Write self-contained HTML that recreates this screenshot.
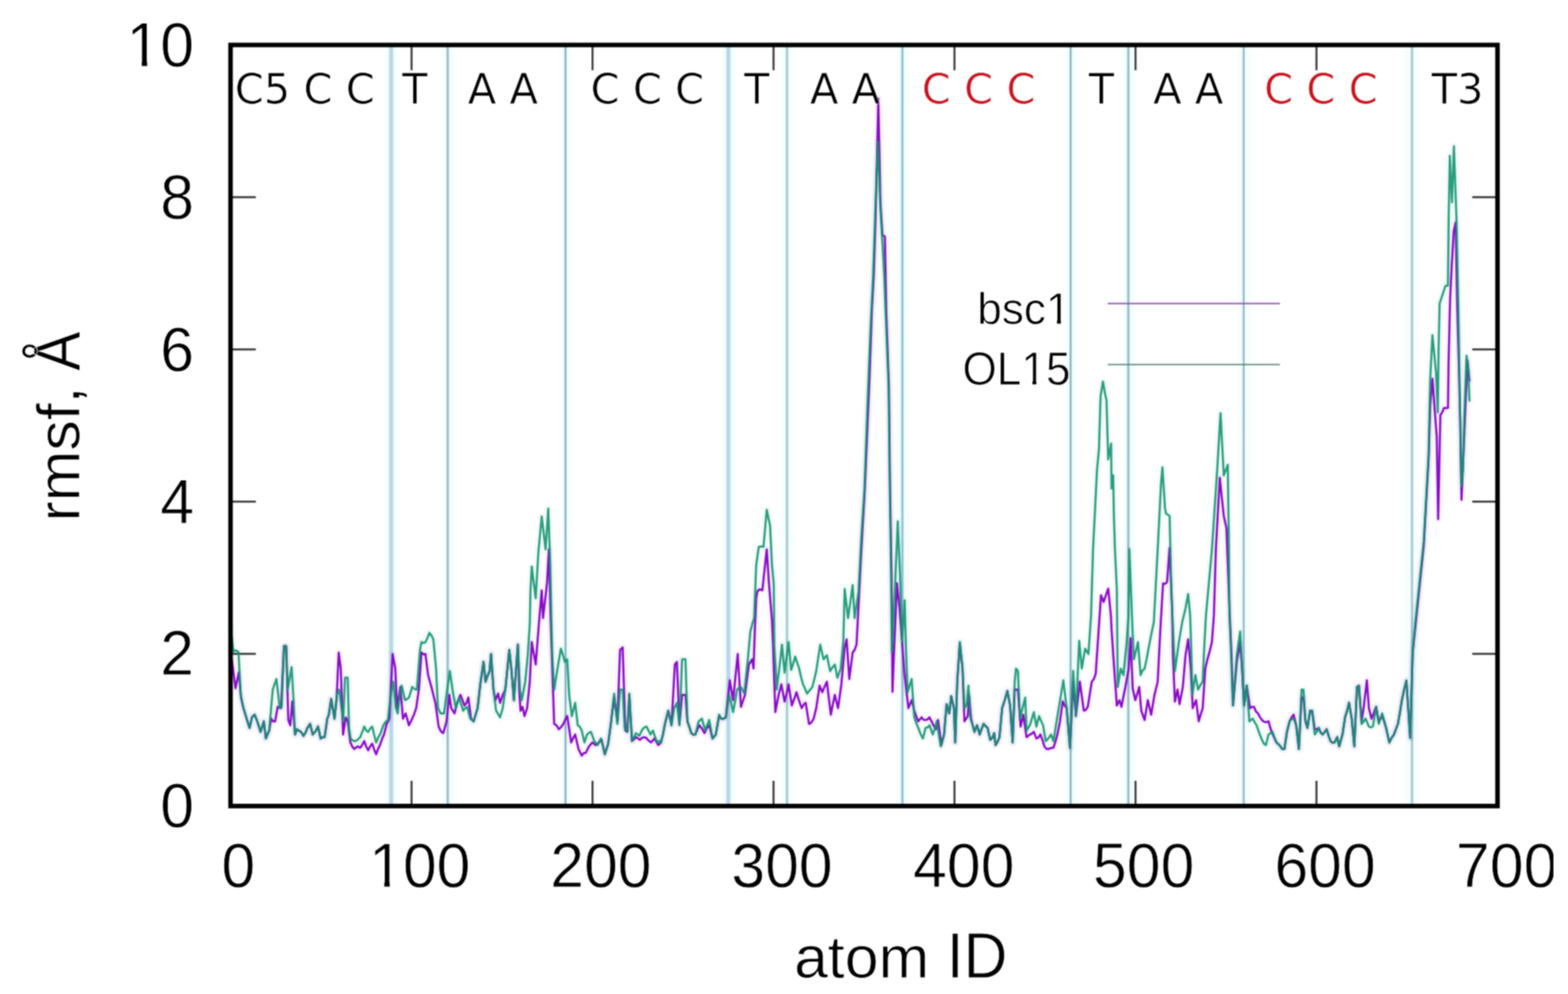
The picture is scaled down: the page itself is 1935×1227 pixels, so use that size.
<!DOCTYPE html>
<html lang="en"><head><meta charset="utf-8"><title>rmsf per atom: bsc1 vs OL15</title>
<style>html,body{margin:0;padding:0;background:#fff}body{width:1935px;height:1227px;overflow:hidden}svg{display:block}</style>
</head><body>
<svg width="1935" height="1227" viewBox="0 0 1935 1227" role="img" aria-label="rmsf per atom ID for bsc1 and OL15">
<defs><filter id="soft" x="0" y="0" width="100%" height="100%" filterUnits="userSpaceOnUse" color-interpolation-filters="sRGB"><feConvolveMatrix order="3" kernelMatrix="1 2 1 2 4 2 1 2 1" divisor="16" edgeMode="duplicate" preserveAlpha="true"/></filter></defs>
<rect width="1935" height="1227" fill="#fff"/>
<g filter="url(#soft)">
<rect width="1935" height="1227" fill="#fff"/>
<g fill="none">
<line x1="482.7" y1="55.5" x2="482.7" y2="995.0" stroke="#f7fefe" stroke-width="16"/>
<line x1="552.5" y1="55.5" x2="552.5" y2="995.0" stroke="#f7fefe" stroke-width="16"/>
<line x1="697.9" y1="55.5" x2="697.9" y2="995.0" stroke="#f7fefe" stroke-width="16"/>
<line x1="898.8" y1="55.5" x2="898.8" y2="995.0" stroke="#f7fefe" stroke-width="16"/>
<line x1="971.2" y1="55.5" x2="971.2" y2="995.0" stroke="#f7fefe" stroke-width="16"/>
<line x1="1113.6" y1="55.5" x2="1113.6" y2="995.0" stroke="#f7fefe" stroke-width="16"/>
<line x1="1321.2" y1="55.5" x2="1321.2" y2="995.0" stroke="#f7fefe" stroke-width="16"/>
<line x1="1392.4" y1="55.5" x2="1392.4" y2="995.0" stroke="#f7fefe" stroke-width="16"/>
<line x1="1534.8" y1="55.5" x2="1534.8" y2="995.0" stroke="#f7fefe" stroke-width="16"/>
<line x1="1742.5" y1="55.5" x2="1742.5" y2="995.0" stroke="#f7fefe" stroke-width="16"/>
<line x1="482.7" y1="55.5" x2="482.7" y2="995.0" stroke="#e9f8fb" stroke-width="8.1"/>
<line x1="552.5" y1="55.5" x2="552.5" y2="995.0" stroke="#e9f8fb" stroke-width="5.7"/>
<line x1="697.9" y1="55.5" x2="697.9" y2="995.0" stroke="#e9f8fb" stroke-width="5.7"/>
<line x1="898.8" y1="55.5" x2="898.8" y2="995.0" stroke="#e9f8fb" stroke-width="8.1"/>
<line x1="971.2" y1="55.5" x2="971.2" y2="995.0" stroke="#e9f8fb" stroke-width="5.9"/>
<line x1="1113.6" y1="55.5" x2="1113.6" y2="995.0" stroke="#e9f8fb" stroke-width="5.9"/>
<line x1="1321.2" y1="55.5" x2="1321.2" y2="995.0" stroke="#e9f8fb" stroke-width="5.7"/>
<line x1="1392.4" y1="55.5" x2="1392.4" y2="995.0" stroke="#e9f8fb" stroke-width="5.7"/>
<line x1="1534.8" y1="55.5" x2="1534.8" y2="995.0" stroke="#e9f8fb" stroke-width="5.7"/>
<line x1="1742.5" y1="55.5" x2="1742.5" y2="995.0" stroke="#e9f8fb" stroke-width="5.7"/>
<line x1="482.7" y1="55.5" x2="482.7" y2="995.0" stroke="#bfd5e7" stroke-width="4.6"/>
<line x1="552.5" y1="55.5" x2="552.5" y2="995.0" stroke="#8ab0bf" stroke-width="2.2"/>
<line x1="697.9" y1="55.5" x2="697.9" y2="995.0" stroke="#8ab0bf" stroke-width="2.2"/>
<line x1="898.8" y1="55.5" x2="898.8" y2="995.0" stroke="#bbd5ec" stroke-width="4.6"/>
<line x1="971.2" y1="55.5" x2="971.2" y2="995.0" stroke="#a3c3cc" stroke-width="2.4"/>
<line x1="1113.6" y1="55.5" x2="1113.6" y2="995.0" stroke="#90bccd" stroke-width="2.4"/>
<line x1="1321.2" y1="55.5" x2="1321.2" y2="995.0" stroke="#8ab0bf" stroke-width="2.2"/>
<line x1="1392.4" y1="55.5" x2="1392.4" y2="995.0" stroke="#8ab0bf" stroke-width="2.2"/>
<line x1="1534.8" y1="55.5" x2="1534.8" y2="995.0" stroke="#95b7c3" stroke-width="2.2"/>
<line x1="1742.5" y1="55.5" x2="1742.5" y2="995.0" stroke="#9bc0cc" stroke-width="2.2"/>
</g>
<g stroke="#3c3c3c" stroke-width="2.5" fill="none">
<line x1="507.9" y1="995.0" x2="507.9" y2="963.8"/>
<line x1="507.9" y1="55.5" x2="507.9" y2="86.7"/>
<line x1="731.2" y1="995.0" x2="731.2" y2="963.8"/>
<line x1="731.2" y1="55.5" x2="731.2" y2="86.7"/>
<line x1="954.6" y1="995.0" x2="954.6" y2="963.8"/>
<line x1="954.6" y1="55.5" x2="954.6" y2="86.7"/>
<line x1="1177.9" y1="995.0" x2="1177.9" y2="963.8"/>
<line x1="1177.9" y1="55.5" x2="1177.9" y2="86.7"/>
<line x1="1401.3" y1="995.0" x2="1401.3" y2="963.8"/>
<line x1="1401.3" y1="55.5" x2="1401.3" y2="86.7"/>
<line x1="1624.6" y1="995.0" x2="1624.6" y2="963.8"/>
<line x1="1624.6" y1="55.5" x2="1624.6" y2="86.7"/>
<line x1="284.5" y1="807.1" x2="315.7" y2="807.1"/>
<line x1="1848.0" y1="807.1" x2="1816.8" y2="807.1"/>
<line x1="284.5" y1="619.2" x2="315.7" y2="619.2"/>
<line x1="1848.0" y1="619.2" x2="1816.8" y2="619.2"/>
<line x1="284.5" y1="431.3" x2="315.7" y2="431.3"/>
<line x1="1848.0" y1="431.3" x2="1816.8" y2="431.3"/>
<line x1="284.5" y1="243.4" x2="315.7" y2="243.4"/>
<line x1="1848.0" y1="243.4" x2="1816.8" y2="243.4"/>
</g>
<line x1="1367" y1="374.7" x2="1579.5" y2="374.7" stroke="#8d4fae" stroke-width="1.7"/>
<line x1="1367" y1="450" x2="1579.5" y2="450" stroke="#4f7d70" stroke-width="1.5"/>
<g fill="none" stroke-width="2.6" stroke-linejoin="round" stroke-linecap="round">
<polyline stroke="#129470" stroke-width="9" opacity="0.05" points="284.4,772.2 288.1,804.0 291.2,802.8 294.3,804.8 297.1,857.8 300.4,874.1 304.4,887.1 308.0,898.5 311.0,885.5 314.2,882.2 317.5,890.4 321.6,903.4 325.6,890.4 328.1,911.6 332.2,901.8 334.6,874.1 336.6,851.3 338.8,844.7 341.1,838.2 345.2,874.1 347.6,872.5 350.4,799.1 352.8,796.7 355.0,851.3 357.4,837.5 359.9,823.6 362.3,864.3 363.9,906.7 366.4,900.2 368.8,901.9 371.3,903.4 374.5,908.3 377.0,904.5 379.4,898.5 382.7,893.6 385.9,906.7 389.2,903.0 392.5,896.9 395.7,911.6 398.2,910.0 400.6,909.9 403.9,887.1 405.8,882.2 408.7,862.7 412.8,887.1 415.6,857.8 418.5,851.3 423.4,890.4 425.9,836.6 429.1,836.6 430.7,898.5 432.7,911.6 435.8,914.4 438.9,914.8 441.8,912.7 444.6,909.9 447.0,903.7 449.5,896.9 451.9,901.8 454.4,903.4 456.8,899.3 459.3,896.9 461.7,907.0 464.2,916.5 466.6,910.5 469.0,906.7 473.1,895.3 476.0,891.0 478.8,888.7 482.1,857.8 485.3,841.5 488.6,874.1 490.8,880.6 493.3,857.8 495.7,846.4 499.8,864.3 502.2,863.0 504.7,861.0 508.7,848.0 511.6,850.6 514.4,851.3 518.5,800.7 520.1,792.6 522.6,793.8 525.0,792.6 527.5,787.5 529.9,781.2 532.4,784.4 534.8,789.3 538.1,825.2 540.5,874.1 543.8,880.6 547.9,880.6 551.9,851.3 555.2,828.4 558.4,851.3 562.5,874.1 566.6,861.0 569.0,869.0 571.5,877.3 573.9,874.4 576.4,872.5 580.4,887.1 584.5,890.4 587.0,882.0 589.4,874.1 592.7,844.7 596.7,817.0 599.2,841.5 601.6,834.5 604.1,828.4 606.0,807.3 609.0,851.3 612.2,877.3 614.7,881.3 617.1,885.5 620.4,874.1 623.6,851.3 628.5,802.4 631.0,825.2 634.2,864.3 636.7,828.4 639.1,795.9 641.6,851.3 644.0,864.3 648.1,841.5 651.3,808.9 653.8,769.8 654.6,730.4 656.2,699.4 661.1,738.5 664.4,681.5 668.5,637.5 673.3,678.2 676.6,627.7 679.1,697.8 680.4,763.0 681.5,808.9 683.9,851.3 688.0,825.2 692.1,800.7 694.5,808.0 697.0,817.0 700.0,813.8 702.4,857.8 705.7,883.9 709.8,867.6 713.0,895.3 715.5,897.0 717.9,901.8 721.2,916.5 724.4,906.7 726.9,904.6 729.3,903.4 733.4,914.8 737.5,919.7 741.6,911.6 744.0,920.6 746.4,931.1 750.5,918.1 753.8,893.6 757.9,856.2 761.9,893.6 765.2,851.3 768.4,851.3 770.9,898.5 774.2,903.4 776.6,856.2 779.9,914.8 782.3,910.2 784.7,905.0 788.8,908.3 792.9,900.2 795.3,897.9 797.8,896.9 800.2,901.7 802.7,906.7 805.9,901.8 808.4,909.8 810.8,916.5 813.3,914.6 815.7,916.5 818.2,906.2 820.6,893.6 824.7,877.3 828.7,895.3 832.0,874.1 835.3,867.6 838.5,895.3 841.8,813.8 845.9,813.8 848.3,890.4 850.7,897.4 853.2,905.0 855.6,907.0 858.1,906.7 862.2,890.4 866.2,887.1 870.3,901.8 872.8,894.5 875.2,888.7 879.3,911.6 883.3,906.7 887.4,882.2 890.0,887.1 892.9,887.2 895.7,885.5 899.8,857.8 902.2,867.3 904.7,879.0 907.1,866.3 909.6,851.3 912.0,848.9 914.4,848.0 918.5,856.2 922.6,817.0 925.9,779.6 928.6,769.5 930.7,763.0 933.2,697.8 936.4,675.0 939.3,674.4 942.2,675.0 946.2,629.3 950.3,648.9 952.7,697.8 954.9,720.6 955.5,795.6 956.2,808.9 957.3,825.2 958.4,851.3 961.7,825.2 965.0,795.9 968.2,830.1 973.1,792.6 976.4,826.8 978.8,819.3 981.3,810.5 983.7,817.8 986.2,825.2 988.6,835.9 991.0,844.7 993.5,850.3 995.9,856.2 999.2,852.1 1002.5,848.0 1004.9,838.5 1007.3,828.4 1012.2,795.9 1016.3,813.8 1020.4,808.9 1024.5,828.4 1027.3,823.8 1030.2,820.3 1033.4,836.6 1037.5,825.2 1040.7,792.6 1042.4,727.1 1046.5,763.0 1048.9,746.7 1052.2,722.2 1054.6,763.0 1059.5,730.4 1062.8,665.2 1066.8,603.3 1070.5,500.0 1074.5,400.0 1077.5,340.0 1080.5,250.0 1083.3,175.0 1086.2,252.0 1089.0,300.0 1091.2,340.0 1092.8,382.0 1096.6,478.0 1098.0,600.0 1099.6,707.0 1100.6,805.0 1104.7,719.8 1107.9,643.6 1111.1,719.8 1113.2,791.9 1116.4,741.0 1118.0,800.0 1120.1,854.5 1122.6,846.0 1125.0,838.2 1128.3,885.5 1130.7,892.5 1133.2,898.5 1136.0,906.0 1138.9,911.6 1142.2,898.5 1144.6,897.9 1147.0,895.3 1151.1,906.7 1153.6,899.4 1156.0,890.4 1160.9,921.3 1165.0,906.7 1168.2,869.2 1171.5,880.6 1173.9,859.4 1177.2,874.1 1178.8,916.5 1181.3,841.5 1184.5,792.6 1187.8,825.2 1190.2,874.1 1192.7,870.8 1195.1,846.4 1197.6,887.1 1200.0,894.1 1202.5,903.4 1205.7,895.3 1209.0,906.7 1211.4,899.5 1213.9,893.6 1216.3,896.3 1218.7,898.5 1222.0,913.2 1224.5,910.9 1226.9,905.0 1228.5,919.7 1231.0,915.7 1233.4,909.9 1236.7,874.1 1239.9,864.3 1243.2,852.9 1246.5,870.8 1249.7,916.5 1252.2,841.5 1253.8,825.2 1256.2,828.4 1258.7,887.1 1261.9,874.1 1265.2,861.0 1266.8,901.8 1270.9,895.3 1273.3,887.5 1275.8,879.0 1279.0,896.9 1282.3,883.9 1284.8,890.0 1287.2,895.3 1290.5,914.8 1293.7,911.5 1297.0,906.7 1300.0,914.8 1306.5,874.1 1309.4,857.1 1312.2,839.9 1316.3,874.1 1320.4,923.0 1324.4,828.4 1327.7,883.9 1331.8,791.0 1335.0,825.2 1339.1,800.7 1343.2,807.3 1346.4,760.0 1348.9,677.8 1353.8,580.0 1356.2,554.1 1358.2,488.9 1361.1,471.0 1363.9,487.3 1365.5,493.8 1367.6,567.1 1371.2,547.6 1371.7,603.0 1373.7,586.7 1374.6,635.6 1375.9,677.8 1378.2,726.7 1379.4,848.0 1383.1,825.2 1386.4,833.3 1390.4,792.6 1392.6,760.0 1393.7,677.8 1397.5,775.6 1399.4,813.8 1401.9,803.2 1404.3,792.6 1407.6,833.3 1410.0,827.6 1412.5,825.2 1414.9,814.1 1417.3,800.7 1420.6,783.7 1423.9,768.1 1428.7,677.8 1432.8,596.3 1434.5,576.9 1437.7,627.4 1438.9,633.8 1441.1,635.2 1443.4,637.0 1445.0,710.4 1446.7,759.3 1449.9,828.4 1454.8,792.6 1458.9,768.1 1463.0,751.1 1466.2,733.2 1468.7,759.3 1469.8,792.6 1471.4,857.8 1475.2,833.3 1478.5,851.3 1481.3,845.6 1484.2,841.5 1485.8,805.6 1488.2,760.0 1495.6,677.8 1502.1,580.0 1506.2,510.1 1510.2,586.7 1512.7,580.3 1515.1,573.6 1516.4,661.5 1517.2,759.3 1519.3,808.9 1521.4,870.8 1526.3,808.9 1530.4,779.6 1532.8,825.2 1535.3,870.8 1538.5,846.4 1541.8,890.4 1545.9,887.1 1548.3,891.3 1550.7,895.3 1554.0,904.9 1557.3,913.2 1559.7,917.9 1562.2,919.7 1565.4,906.7 1567.9,905.0 1570.3,903.4 1572.7,910.3 1575.2,916.5 1577.6,918.5 1580.1,921.3 1582.5,924.7 1585.0,924.6 1588.2,903.4 1591.5,890.4 1593.9,887.9 1596.4,887.1 1599.6,895.3 1602.9,924.6 1606.2,851.3 1608.6,851.3 1611.0,890.4 1613.5,898.5 1616.7,877.3 1619.2,877.3 1622.5,906.7 1624.9,903.5 1627.3,898.5 1629.8,904.3 1632.2,906.7 1634.7,903.6 1637.1,900.2 1639.6,908.4 1642.0,914.8 1644.5,916.9 1646.9,916.5 1650.2,909.9 1652.6,921.3 1656.7,906.7 1659.9,885.5 1662.4,877.5 1664.8,867.6 1668.1,887.1 1671.3,921.3 1674.6,848.0 1677.0,846.4 1680.3,893.6 1682.8,890.6 1685.2,887.1 1689.3,896.9 1691.7,897.9 1694.2,896.9 1698.2,872.5 1701.5,893.6 1705.6,880.6 1708.0,888.8 1710.5,898.5 1714.5,916.5 1717.4,910.7 1720.2,906.7 1722.7,899.9 1725.1,893.6 1727.6,879.5 1730.0,864.3 1732.8,851.2 1735.6,840.0 1740.2,911.0 1743.3,806.0 1746.4,770.0 1751.5,721.0 1757.0,667.6 1760.5,605.0 1763.0,560.0 1765.0,467.6 1767.7,413.8 1772.2,460.4 1774.3,509.0 1775.3,431.7 1776.6,374.3 1779.0,367.3 1781.4,359.9 1783.8,352.8 1786.8,352.8 1787.8,267.6 1789.2,192.3 1791.9,249.7 1794.2,180.6 1797.3,267.6 1799.5,370.0 1801.7,503.5 1803.3,600.0 1805.3,580.0 1807.1,512.5 1809.8,439.0 1812.0,456.9 1813.4,494.5"/>
<polyline stroke="#8a0cc8" stroke-width="9" opacity="0.05" points="284.4,800.7 290.6,849.6 294.7,830.1 297.4,861.0 300.4,874.1 304.4,887.1 308.0,898.5 311.0,885.5 314.2,882.2 317.5,890.4 321.6,903.4 325.6,890.4 328.1,911.6 332.2,901.8 334.6,887.1 337.0,890.4 339.5,890.4 342.7,872.5 346.8,874.1 350.4,797.5 353.3,798.3 355.8,888.7 358.2,895.3 360.7,865.9 363.1,893.6 364.3,906.7 366.4,900.2 368.8,901.9 371.3,903.4 374.5,908.3 377.0,904.5 379.4,898.5 382.7,893.6 385.9,906.7 389.2,903.0 392.5,896.9 395.7,911.6 398.2,910.0 400.6,909.9 403.9,887.1 405.8,882.2 408.7,862.7 412.8,887.1 415.3,864.3 418.0,805.6 420.5,825.2 423.4,906.7 426.7,885.5 429.1,890.4 432.4,916.5 434.8,921.7 437.3,924.6 441.3,921.3 444.6,923.0 447.0,919.4 449.5,914.8 451.9,921.5 454.4,926.2 456.8,921.3 459.3,918.1 461.7,924.9 464.2,931.1 466.6,924.4 469.0,919.7 471.5,912.2 473.9,906.7 477.2,893.6 480.5,887.1 484.5,807.3 487.8,825.2 490.0,874.1 494.1,848.0 497.3,887.1 500.6,880.6 504.7,895.3 508.7,887.1 511.2,881.2 513.6,874.1 516.9,851.3 520.1,805.6 522.6,807.7 525.0,807.3 528.3,833.3 532.4,848.0 534.8,858.0 537.3,867.6 541.3,896.9 544.2,902.9 547.0,905.0 551.1,890.4 554.4,857.8 556.8,874.1 560.9,880.6 563.3,870.8 565.8,863.6 568.2,857.8 570.7,864.1 573.1,870.8 575.6,867.8 578.0,861.0 581.3,887.1 584.5,890.4 587.0,882.0 589.4,874.1 592.7,844.7 596.7,817.0 599.2,841.5 601.6,834.5 604.1,828.4 606.0,807.3 609.0,851.3 611.4,864.3 614.7,856.2 617.1,867.6 620.4,857.8 623.6,851.3 628.5,802.4 631.0,825.2 634.2,864.3 636.7,828.4 639.1,795.9 640.7,851.3 642.4,877.3 644.8,872.5 647.3,883.9 650.5,874.1 653.8,841.5 656.2,792.6 658.7,806.4 661.1,820.3 665.2,768.1 668.5,728.8 670.1,763.0 675.0,720.6 677.4,678.2 679.5,763.0 681.0,808.9 683.9,893.6 686.8,895.3 689.6,900.2 692.5,897.4 695.3,893.6 697.7,888.0 700.0,883.9 704.9,916.5 707.3,911.2 709.8,906.7 713.9,924.6 717.9,932.8 720.4,929.5 722.8,929.5 726.9,921.3 731.0,916.5 735.0,919.7 739.1,916.5 742.4,913.2 746.4,931.1 750.5,918.1 753.8,893.6 757.9,861.0 761.9,890.4 765.2,802.4 768.4,799.1 771.7,901.8 774.2,903.4 776.6,857.8 779.9,914.8 782.3,912.8 784.7,909.9 787.2,911.5 789.6,913.2 792.1,911.1 794.5,909.9 797.0,910.4 799.4,913.2 803.5,916.5 807.6,911.6 810.0,915.9 812.5,919.7 815.7,916.5 818.2,906.2 820.6,893.6 824.7,877.3 828.7,895.3 832.8,820.3 835.3,817.0 838.5,893.6 841.8,857.8 845.9,857.8 848.3,890.4 850.7,897.4 853.2,905.0 855.6,907.0 858.1,906.7 860.5,900.8 863.0,895.3 866.2,899.4 869.5,905.0 872.3,898.8 875.2,895.3 879.3,911.6 883.3,906.7 887.4,883.9 890.0,887.1 892.9,887.2 895.7,885.5 900.6,839.9 904.7,864.3 910.4,807.3 914.4,872.5 916.9,864.8 919.3,857.8 924.2,820.3 928.3,813.8 929.9,825.2 931.6,776.3 933.2,738.5 934.8,729.6 937.8,727.4 940.8,728.7 946.2,678.2 948.7,717.3 952.7,766.2 953.9,792.6 955.5,841.5 956.8,879.0 960.9,857.8 964.2,844.7 968.2,865.9 970.7,856.5 973.1,844.7 977.2,870.8 980.0,863.3 982.9,854.5 986.2,865.3 989.4,874.1 991.9,869.5 994.3,867.6 998.4,893.6 1001.2,891.9 1004.1,887.1 1007.3,874.1 1011.4,846.4 1014.7,854.5 1017.5,847.8 1020.4,841.5 1025.3,882.2 1027.7,869.7 1030.2,857.8 1034.2,874.1 1038.3,844.7 1042.4,799.1 1044.8,789.3 1048.1,838.2 1052.2,805.6 1054.6,802.4 1057.0,795.9 1058.7,763.0 1062.8,681.5 1067.3,603.3 1073.0,467.0 1076.0,382.0 1078.3,340.0 1080.5,270.0 1083.9,121.5 1086.5,250.0 1089.0,290.0 1092.0,292.0 1092.8,335.0 1093.6,382.0 1097.0,478.0 1098.3,600.0 1100.2,707.0 1101.4,854.0 1103.5,800.0 1106.9,720.0 1110.0,750.0 1113.2,792.0 1116.0,830.0 1121.0,874.1 1125.0,864.3 1128.3,877.3 1130.7,884.3 1133.2,890.4 1137.3,885.5 1139.7,888.5 1142.2,888.7 1144.6,888.1 1147.0,885.5 1149.5,890.3 1151.9,895.3 1155.2,900.2 1157.6,888.7 1161.7,919.7 1165.0,906.7 1168.2,869.2 1171.5,880.6 1173.9,859.4 1177.2,874.1 1178.8,916.5 1181.3,841.5 1184.5,794.2 1187.8,825.2 1190.2,890.4 1194.3,883.9 1195.9,857.8 1198.4,887.1 1202.5,903.4 1205.7,895.3 1209.0,906.7 1211.4,899.5 1213.9,893.6 1216.3,896.3 1218.7,898.5 1222.0,913.2 1224.5,910.9 1226.9,905.0 1228.5,919.7 1231.0,915.7 1233.4,909.9 1236.7,874.1 1239.9,864.3 1243.2,852.9 1246.5,870.8 1249.7,916.5 1252.2,851.3 1256.2,851.3 1259.5,896.9 1262.8,882.2 1266.8,909.9 1270.9,906.7 1273.3,905.7 1275.8,903.4 1279.0,911.6 1281.5,910.2 1283.9,906.7 1286.4,913.1 1288.8,921.3 1291.3,924.5 1293.7,924.6 1296.2,923.8 1298.6,923.0 1300.0,923.0 1302.4,915.8 1304.9,906.7 1308.1,890.4 1311.4,865.9 1313.9,871.2 1316.3,874.1 1320.4,923.0 1324.4,841.5 1327.7,883.9 1332.6,841.5 1337.5,877.3 1339.9,876.4 1342.4,872.5 1347.3,841.5 1349.7,838.5 1352.2,831.7 1357.0,760.0 1358.7,734.8 1361.9,743.0 1364.8,734.6 1367.6,726.7 1370.9,759.3 1371.7,776.3 1374.2,813.8 1378.2,870.8 1381.5,864.3 1383.9,872.5 1386.4,859.7 1388.8,848.0 1392.9,825.2 1395.3,787.7 1397.8,849.6 1401.0,864.3 1403.5,856.1 1405.9,848.0 1408.4,877.3 1412.5,888.7 1416.5,864.3 1420.6,882.2 1424.7,857.8 1428.7,841.5 1432.0,776.3 1435.3,720.2 1437.7,720.7 1440.2,718.5 1443.4,676.2 1446.7,759.3 1447.5,808.9 1449.9,865.9 1453.2,851.3 1455.6,869.2 1459.7,848.0 1463.0,808.9 1466.2,789.3 1469.5,825.2 1471.9,874.1 1476.0,864.3 1479.3,890.4 1481.7,881.8 1484.2,874.1 1487.4,825.2 1490.1,813.8 1492.9,803.6 1495.6,792.6 1498.0,760.0 1500.5,677.8 1505.3,589.8 1510.2,637.0 1513.5,651.7 1517.6,759.3 1519.8,808.9 1521.7,870.8 1526.3,817.0 1530.4,792.6 1532.8,825.2 1535.3,870.8 1538.5,846.4 1542.6,874.1 1545.0,872.5 1547.5,872.5 1549.9,878.2 1552.4,880.6 1555.6,886.5 1558.9,890.4 1562.2,891.6 1565.4,890.4 1568.7,901.8 1571.9,909.5 1575.2,916.5 1577.6,918.5 1580.1,921.3 1582.5,924.7 1585.0,924.6 1588.2,903.4 1591.5,890.4 1593.9,885.5 1596.4,882.2 1599.6,895.3 1602.9,924.6 1606.2,861.0 1608.6,861.0 1611.0,890.4 1613.5,898.5 1616.7,877.3 1619.2,877.3 1622.5,900.2 1624.9,900.3 1627.3,898.5 1629.8,904.3 1632.2,906.7 1634.7,903.6 1637.1,900.2 1639.6,908.4 1642.0,914.8 1644.5,916.9 1646.9,916.5 1650.2,909.9 1652.6,921.3 1656.7,906.7 1659.9,885.5 1662.4,877.5 1664.8,867.6 1668.1,887.1 1671.3,921.3 1674.6,848.0 1677.0,846.4 1680.3,890.4 1682.8,874.1 1686.8,839.9 1689.3,874.1 1692.5,887.1 1695.4,879.7 1698.2,872.5 1701.5,890.4 1705.6,883.9 1708.0,890.4 1710.5,898.5 1714.5,916.5 1717.4,910.7 1720.2,906.7 1722.7,899.9 1725.1,893.6 1727.6,879.5 1730.0,864.3 1732.8,851.2 1735.6,840.0 1740.2,911.0 1743.3,806.0 1746.4,776.0 1751.5,727.0 1757.0,673.6 1760.5,611.0 1763.0,566.0 1765.0,500.0 1767.7,467.6 1773.0,539.0 1774.8,640.7 1777.5,512.5 1779.8,508.9 1782.0,503.5 1784.5,503.8 1786.9,503.5 1787.6,450.0 1789.5,370.0 1791.5,328.6 1794.0,285.6 1796.3,274.8 1798.3,380.0 1800.3,450.0 1802.0,520.0 1803.6,617.0 1806.0,560.0 1808.5,500.0 1811.0,445.0 1813.4,470.0"/>
<polyline stroke="#8a0cc8" points="284.4,800.7 290.6,849.6 294.7,830.1 297.4,861.0 300.4,874.1 304.4,887.1 308.0,898.5 311.0,885.5 314.2,882.2 317.5,890.4 321.6,903.4 325.6,890.4 328.1,911.6 332.2,901.8 334.6,887.1 337.0,890.4 339.5,890.4 342.7,872.5 346.8,874.1 350.4,797.5 353.3,798.3 355.8,888.7 358.2,895.3 360.7,865.9 363.1,893.6 364.3,906.7 366.4,900.2 368.8,901.9 371.3,903.4 374.5,908.3 377.0,904.5 379.4,898.5 382.7,893.6 385.9,906.7 389.2,903.0 392.5,896.9 395.7,911.6 398.2,910.0 400.6,909.9 403.9,887.1 405.8,882.2 408.7,862.7 412.8,887.1 415.3,864.3 418.0,805.6 420.5,825.2 423.4,906.7 426.7,885.5 429.1,890.4 432.4,916.5 434.8,921.7 437.3,924.6 441.3,921.3 444.6,923.0 447.0,919.4 449.5,914.8 451.9,921.5 454.4,926.2 456.8,921.3 459.3,918.1 461.7,924.9 464.2,931.1 466.6,924.4 469.0,919.7 471.5,912.2 473.9,906.7 477.2,893.6 480.5,887.1 484.5,807.3 487.8,825.2 490.0,874.1 494.1,848.0 497.3,887.1 500.6,880.6 504.7,895.3 508.7,887.1 511.2,881.2 513.6,874.1 516.9,851.3 520.1,805.6 522.6,807.7 525.0,807.3 528.3,833.3 532.4,848.0 534.8,858.0 537.3,867.6 541.3,896.9 544.2,902.9 547.0,905.0 551.1,890.4 554.4,857.8 556.8,874.1 560.9,880.6 563.3,870.8 565.8,863.6 568.2,857.8 570.7,864.1 573.1,870.8 575.6,867.8 578.0,861.0 581.3,887.1 584.5,890.4 587.0,882.0 589.4,874.1 592.7,844.7 596.7,817.0 599.2,841.5 601.6,834.5 604.1,828.4 606.0,807.3 609.0,851.3 611.4,864.3 614.7,856.2 617.1,867.6 620.4,857.8 623.6,851.3 628.5,802.4 631.0,825.2 634.2,864.3 636.7,828.4 639.1,795.9 640.7,851.3 642.4,877.3 644.8,872.5 647.3,883.9 650.5,874.1 653.8,841.5 656.2,792.6 658.7,806.4 661.1,820.3 665.2,768.1 668.5,728.8 670.1,763.0 675.0,720.6 677.4,678.2 679.5,763.0 681.0,808.9 683.9,893.6 686.8,895.3 689.6,900.2 692.5,897.4 695.3,893.6 697.7,888.0 700.0,883.9 704.9,916.5 707.3,911.2 709.8,906.7 713.9,924.6 717.9,932.8 720.4,929.5 722.8,929.5 726.9,921.3 731.0,916.5 735.0,919.7 739.1,916.5 742.4,913.2 746.4,931.1 750.5,918.1 753.8,893.6 757.9,861.0 761.9,890.4 765.2,802.4 768.4,799.1 771.7,901.8 774.2,903.4 776.6,857.8 779.9,914.8 782.3,912.8 784.7,909.9 787.2,911.5 789.6,913.2 792.1,911.1 794.5,909.9 797.0,910.4 799.4,913.2 803.5,916.5 807.6,911.6 810.0,915.9 812.5,919.7 815.7,916.5 818.2,906.2 820.6,893.6 824.7,877.3 828.7,895.3 832.8,820.3 835.3,817.0 838.5,893.6 841.8,857.8 845.9,857.8 848.3,890.4 850.7,897.4 853.2,905.0 855.6,907.0 858.1,906.7 860.5,900.8 863.0,895.3 866.2,899.4 869.5,905.0 872.3,898.8 875.2,895.3 879.3,911.6 883.3,906.7 887.4,883.9 890.0,887.1 892.9,887.2 895.7,885.5 900.6,839.9 904.7,864.3 910.4,807.3 914.4,872.5 916.9,864.8 919.3,857.8 924.2,820.3 928.3,813.8 929.9,825.2 931.6,776.3 933.2,738.5 934.8,729.6 937.8,727.4 940.8,728.7 946.2,678.2 948.7,717.3 952.7,766.2 953.9,792.6 955.5,841.5 956.8,879.0 960.9,857.8 964.2,844.7 968.2,865.9 970.7,856.5 973.1,844.7 977.2,870.8 980.0,863.3 982.9,854.5 986.2,865.3 989.4,874.1 991.9,869.5 994.3,867.6 998.4,893.6 1001.2,891.9 1004.1,887.1 1007.3,874.1 1011.4,846.4 1014.7,854.5 1017.5,847.8 1020.4,841.5 1025.3,882.2 1027.7,869.7 1030.2,857.8 1034.2,874.1 1038.3,844.7 1042.4,799.1 1044.8,789.3 1048.1,838.2 1052.2,805.6 1054.6,802.4 1057.0,795.9 1058.7,763.0 1062.8,681.5 1067.3,603.3 1073.0,467.0 1076.0,382.0 1078.3,340.0 1080.5,270.0 1083.9,121.5 1086.5,250.0 1089.0,290.0 1092.0,292.0 1092.8,335.0 1093.6,382.0 1097.0,478.0 1098.3,600.0 1100.2,707.0 1101.4,854.0 1103.5,800.0 1106.9,720.0 1110.0,750.0 1113.2,792.0 1116.0,830.0 1121.0,874.1 1125.0,864.3 1128.3,877.3 1130.7,884.3 1133.2,890.4 1137.3,885.5 1139.7,888.5 1142.2,888.7 1144.6,888.1 1147.0,885.5 1149.5,890.3 1151.9,895.3 1155.2,900.2 1157.6,888.7 1161.7,919.7 1165.0,906.7 1168.2,869.2 1171.5,880.6 1173.9,859.4 1177.2,874.1 1178.8,916.5 1181.3,841.5 1184.5,794.2 1187.8,825.2 1190.2,890.4 1194.3,883.9 1195.9,857.8 1198.4,887.1 1202.5,903.4 1205.7,895.3 1209.0,906.7 1211.4,899.5 1213.9,893.6 1216.3,896.3 1218.7,898.5 1222.0,913.2 1224.5,910.9 1226.9,905.0 1228.5,919.7 1231.0,915.7 1233.4,909.9 1236.7,874.1 1239.9,864.3 1243.2,852.9 1246.5,870.8 1249.7,916.5 1252.2,851.3 1256.2,851.3 1259.5,896.9 1262.8,882.2 1266.8,909.9 1270.9,906.7 1273.3,905.7 1275.8,903.4 1279.0,911.6 1281.5,910.2 1283.9,906.7 1286.4,913.1 1288.8,921.3 1291.3,924.5 1293.7,924.6 1296.2,923.8 1298.6,923.0 1300.0,923.0 1302.4,915.8 1304.9,906.7 1308.1,890.4 1311.4,865.9 1313.9,871.2 1316.3,874.1 1320.4,923.0 1324.4,841.5 1327.7,883.9 1332.6,841.5 1337.5,877.3 1339.9,876.4 1342.4,872.5 1347.3,841.5 1349.7,838.5 1352.2,831.7 1357.0,760.0 1358.7,734.8 1361.9,743.0 1364.8,734.6 1367.6,726.7 1370.9,759.3 1371.7,776.3 1374.2,813.8 1378.2,870.8 1381.5,864.3 1383.9,872.5 1386.4,859.7 1388.8,848.0 1392.9,825.2 1395.3,787.7 1397.8,849.6 1401.0,864.3 1403.5,856.1 1405.9,848.0 1408.4,877.3 1412.5,888.7 1416.5,864.3 1420.6,882.2 1424.7,857.8 1428.7,841.5 1432.0,776.3 1435.3,720.2 1437.7,720.7 1440.2,718.5 1443.4,676.2 1446.7,759.3 1447.5,808.9 1449.9,865.9 1453.2,851.3 1455.6,869.2 1459.7,848.0 1463.0,808.9 1466.2,789.3 1469.5,825.2 1471.9,874.1 1476.0,864.3 1479.3,890.4 1481.7,881.8 1484.2,874.1 1487.4,825.2 1490.1,813.8 1492.9,803.6 1495.6,792.6 1498.0,760.0 1500.5,677.8 1505.3,589.8 1510.2,637.0 1513.5,651.7 1517.6,759.3 1519.8,808.9 1521.7,870.8 1526.3,817.0 1530.4,792.6 1532.8,825.2 1535.3,870.8 1538.5,846.4 1542.6,874.1 1545.0,872.5 1547.5,872.5 1549.9,878.2 1552.4,880.6 1555.6,886.5 1558.9,890.4 1562.2,891.6 1565.4,890.4 1568.7,901.8 1571.9,909.5 1575.2,916.5 1577.6,918.5 1580.1,921.3 1582.5,924.7 1585.0,924.6 1588.2,903.4 1591.5,890.4 1593.9,885.5 1596.4,882.2 1599.6,895.3 1602.9,924.6 1606.2,861.0 1608.6,861.0 1611.0,890.4 1613.5,898.5 1616.7,877.3 1619.2,877.3 1622.5,900.2 1624.9,900.3 1627.3,898.5 1629.8,904.3 1632.2,906.7 1634.7,903.6 1637.1,900.2 1639.6,908.4 1642.0,914.8 1644.5,916.9 1646.9,916.5 1650.2,909.9 1652.6,921.3 1656.7,906.7 1659.9,885.5 1662.4,877.5 1664.8,867.6 1668.1,887.1 1671.3,921.3 1674.6,848.0 1677.0,846.4 1680.3,890.4 1682.8,874.1 1686.8,839.9 1689.3,874.1 1692.5,887.1 1695.4,879.7 1698.2,872.5 1701.5,890.4 1705.6,883.9 1708.0,890.4 1710.5,898.5 1714.5,916.5 1717.4,910.7 1720.2,906.7 1722.7,899.9 1725.1,893.6 1727.6,879.5 1730.0,864.3 1732.8,851.2 1735.6,840.0 1740.2,911.0 1743.3,806.0 1746.4,776.0 1751.5,727.0 1757.0,673.6 1760.5,611.0 1763.0,566.0 1765.0,500.0 1767.7,467.6 1773.0,539.0 1774.8,640.7 1777.5,512.5 1779.8,508.9 1782.0,503.5 1784.5,503.8 1786.9,503.5 1787.6,450.0 1789.5,370.0 1791.5,328.6 1794.0,285.6 1796.3,274.8 1798.3,380.0 1800.3,450.0 1802.0,520.0 1803.6,617.0 1806.0,560.0 1808.5,500.0 1811.0,445.0 1813.4,470.0"/>
<polyline stroke="#129470" opacity="0.9" points="284.4,772.2 288.1,804.0 291.2,802.8 294.3,804.8 297.1,857.8 300.4,874.1 304.4,887.1 308.0,898.5 311.0,885.5 314.2,882.2 317.5,890.4 321.6,903.4 325.6,890.4 328.1,911.6 332.2,901.8 334.6,874.1 336.6,851.3 338.8,844.7 341.1,838.2 345.2,874.1 347.6,872.5 350.4,799.1 352.8,796.7 355.0,851.3 357.4,837.5 359.9,823.6 362.3,864.3 363.9,906.7 366.4,900.2 368.8,901.9 371.3,903.4 374.5,908.3 377.0,904.5 379.4,898.5 382.7,893.6 385.9,906.7 389.2,903.0 392.5,896.9 395.7,911.6 398.2,910.0 400.6,909.9 403.9,887.1 405.8,882.2 408.7,862.7 412.8,887.1 415.6,857.8 418.5,851.3 423.4,890.4 425.9,836.6 429.1,836.6 430.7,898.5 432.7,911.6 435.8,914.4 438.9,914.8 441.8,912.7 444.6,909.9 447.0,903.7 449.5,896.9 451.9,901.8 454.4,903.4 456.8,899.3 459.3,896.9 461.7,907.0 464.2,916.5 466.6,910.5 469.0,906.7 473.1,895.3 476.0,891.0 478.8,888.7 482.1,857.8 485.3,841.5 488.6,874.1 490.8,880.6 493.3,857.8 495.7,846.4 499.8,864.3 502.2,863.0 504.7,861.0 508.7,848.0 511.6,850.6 514.4,851.3 518.5,800.7 520.1,792.6 522.6,793.8 525.0,792.6 527.5,787.5 529.9,781.2 532.4,784.4 534.8,789.3 538.1,825.2 540.5,874.1 543.8,880.6 547.9,880.6 551.9,851.3 555.2,828.4 558.4,851.3 562.5,874.1 566.6,861.0 569.0,869.0 571.5,877.3 573.9,874.4 576.4,872.5 580.4,887.1 584.5,890.4 587.0,882.0 589.4,874.1 592.7,844.7 596.7,817.0 599.2,841.5 601.6,834.5 604.1,828.4 606.0,807.3 609.0,851.3 612.2,877.3 614.7,881.3 617.1,885.5 620.4,874.1 623.6,851.3 628.5,802.4 631.0,825.2 634.2,864.3 636.7,828.4 639.1,795.9 641.6,851.3 644.0,864.3 648.1,841.5 651.3,808.9 653.8,769.8 654.6,730.4 656.2,699.4 661.1,738.5 664.4,681.5 668.5,637.5 673.3,678.2 676.6,627.7 679.1,697.8 680.4,763.0 681.5,808.9 683.9,851.3 688.0,825.2 692.1,800.7 694.5,808.0 697.0,817.0 700.0,813.8 702.4,857.8 705.7,883.9 709.8,867.6 713.0,895.3 715.5,897.0 717.9,901.8 721.2,916.5 724.4,906.7 726.9,904.6 729.3,903.4 733.4,914.8 737.5,919.7 741.6,911.6 744.0,920.6 746.4,931.1 750.5,918.1 753.8,893.6 757.9,856.2 761.9,893.6 765.2,851.3 768.4,851.3 770.9,898.5 774.2,903.4 776.6,856.2 779.9,914.8 782.3,910.2 784.7,905.0 788.8,908.3 792.9,900.2 795.3,897.9 797.8,896.9 800.2,901.7 802.7,906.7 805.9,901.8 808.4,909.8 810.8,916.5 813.3,914.6 815.7,916.5 818.2,906.2 820.6,893.6 824.7,877.3 828.7,895.3 832.0,874.1 835.3,867.6 838.5,895.3 841.8,813.8 845.9,813.8 848.3,890.4 850.7,897.4 853.2,905.0 855.6,907.0 858.1,906.7 862.2,890.4 866.2,887.1 870.3,901.8 872.8,894.5 875.2,888.7 879.3,911.6 883.3,906.7 887.4,882.2 890.0,887.1 892.9,887.2 895.7,885.5 899.8,857.8 902.2,867.3 904.7,879.0 907.1,866.3 909.6,851.3 912.0,848.9 914.4,848.0 918.5,856.2 922.6,817.0 925.9,779.6 928.6,769.5 930.7,763.0 933.2,697.8 936.4,675.0 939.3,674.4 942.2,675.0 946.2,629.3 950.3,648.9 952.7,697.8 954.9,720.6 955.5,795.6 956.2,808.9 957.3,825.2 958.4,851.3 961.7,825.2 965.0,795.9 968.2,830.1 973.1,792.6 976.4,826.8 978.8,819.3 981.3,810.5 983.7,817.8 986.2,825.2 988.6,835.9 991.0,844.7 993.5,850.3 995.9,856.2 999.2,852.1 1002.5,848.0 1004.9,838.5 1007.3,828.4 1012.2,795.9 1016.3,813.8 1020.4,808.9 1024.5,828.4 1027.3,823.8 1030.2,820.3 1033.4,836.6 1037.5,825.2 1040.7,792.6 1042.4,727.1 1046.5,763.0 1048.9,746.7 1052.2,722.2 1054.6,763.0 1059.5,730.4 1062.8,665.2 1066.8,603.3 1070.5,500.0 1074.5,400.0 1077.5,340.0 1080.5,250.0 1083.3,175.0 1086.2,252.0 1089.0,300.0 1091.2,340.0 1092.8,382.0 1096.6,478.0 1098.0,600.0 1099.6,707.0 1100.6,805.0 1104.7,719.8 1107.9,643.6 1111.1,719.8 1113.2,791.9 1116.4,741.0 1118.0,800.0 1120.1,854.5 1122.6,846.0 1125.0,838.2 1128.3,885.5 1130.7,892.5 1133.2,898.5 1136.0,906.0 1138.9,911.6 1142.2,898.5 1144.6,897.9 1147.0,895.3 1151.1,906.7 1153.6,899.4 1156.0,890.4 1160.9,921.3 1165.0,906.7 1168.2,869.2 1171.5,880.6 1173.9,859.4 1177.2,874.1 1178.8,916.5 1181.3,841.5 1184.5,792.6 1187.8,825.2 1190.2,874.1 1192.7,870.8 1195.1,846.4 1197.6,887.1 1200.0,894.1 1202.5,903.4 1205.7,895.3 1209.0,906.7 1211.4,899.5 1213.9,893.6 1216.3,896.3 1218.7,898.5 1222.0,913.2 1224.5,910.9 1226.9,905.0 1228.5,919.7 1231.0,915.7 1233.4,909.9 1236.7,874.1 1239.9,864.3 1243.2,852.9 1246.5,870.8 1249.7,916.5 1252.2,841.5 1253.8,825.2 1256.2,828.4 1258.7,887.1 1261.9,874.1 1265.2,861.0 1266.8,901.8 1270.9,895.3 1273.3,887.5 1275.8,879.0 1279.0,896.9 1282.3,883.9 1284.8,890.0 1287.2,895.3 1290.5,914.8 1293.7,911.5 1297.0,906.7 1300.0,914.8 1306.5,874.1 1309.4,857.1 1312.2,839.9 1316.3,874.1 1320.4,923.0 1324.4,828.4 1327.7,883.9 1331.8,791.0 1335.0,825.2 1339.1,800.7 1343.2,807.3 1346.4,760.0 1348.9,677.8 1353.8,580.0 1356.2,554.1 1358.2,488.9 1361.1,471.0 1363.9,487.3 1365.5,493.8 1367.6,567.1 1371.2,547.6 1371.7,603.0 1373.7,586.7 1374.6,635.6 1375.9,677.8 1378.2,726.7 1379.4,848.0 1383.1,825.2 1386.4,833.3 1390.4,792.6 1392.6,760.0 1393.7,677.8 1397.5,775.6 1399.4,813.8 1401.9,803.2 1404.3,792.6 1407.6,833.3 1410.0,827.6 1412.5,825.2 1414.9,814.1 1417.3,800.7 1420.6,783.7 1423.9,768.1 1428.7,677.8 1432.8,596.3 1434.5,576.9 1437.7,627.4 1438.9,633.8 1441.1,635.2 1443.4,637.0 1445.0,710.4 1446.7,759.3 1449.9,828.4 1454.8,792.6 1458.9,768.1 1463.0,751.1 1466.2,733.2 1468.7,759.3 1469.8,792.6 1471.4,857.8 1475.2,833.3 1478.5,851.3 1481.3,845.6 1484.2,841.5 1485.8,805.6 1488.2,760.0 1495.6,677.8 1502.1,580.0 1506.2,510.1 1510.2,586.7 1512.7,580.3 1515.1,573.6 1516.4,661.5 1517.2,759.3 1519.3,808.9 1521.4,870.8 1526.3,808.9 1530.4,779.6 1532.8,825.2 1535.3,870.8 1538.5,846.4 1541.8,890.4 1545.9,887.1 1548.3,891.3 1550.7,895.3 1554.0,904.9 1557.3,913.2 1559.7,917.9 1562.2,919.7 1565.4,906.7 1567.9,905.0 1570.3,903.4 1572.7,910.3 1575.2,916.5 1577.6,918.5 1580.1,921.3 1582.5,924.7 1585.0,924.6 1588.2,903.4 1591.5,890.4 1593.9,887.9 1596.4,887.1 1599.6,895.3 1602.9,924.6 1606.2,851.3 1608.6,851.3 1611.0,890.4 1613.5,898.5 1616.7,877.3 1619.2,877.3 1622.5,906.7 1624.9,903.5 1627.3,898.5 1629.8,904.3 1632.2,906.7 1634.7,903.6 1637.1,900.2 1639.6,908.4 1642.0,914.8 1644.5,916.9 1646.9,916.5 1650.2,909.9 1652.6,921.3 1656.7,906.7 1659.9,885.5 1662.4,877.5 1664.8,867.6 1668.1,887.1 1671.3,921.3 1674.6,848.0 1677.0,846.4 1680.3,893.6 1682.8,890.6 1685.2,887.1 1689.3,896.9 1691.7,897.9 1694.2,896.9 1698.2,872.5 1701.5,893.6 1705.6,880.6 1708.0,888.8 1710.5,898.5 1714.5,916.5 1717.4,910.7 1720.2,906.7 1722.7,899.9 1725.1,893.6 1727.6,879.5 1730.0,864.3 1732.8,851.2 1735.6,840.0 1740.2,911.0 1743.3,806.0 1746.4,770.0 1751.5,721.0 1757.0,667.6 1760.5,605.0 1763.0,560.0 1765.0,467.6 1767.7,413.8 1772.2,460.4 1774.3,509.0 1775.3,431.7 1776.6,374.3 1779.0,367.3 1781.4,359.9 1783.8,352.8 1786.8,352.8 1787.8,267.6 1789.2,192.3 1791.9,249.7 1794.2,180.6 1797.3,267.6 1799.5,370.0 1801.7,503.5 1803.3,600.0 1805.3,580.0 1807.1,512.5 1809.8,439.0 1812.0,456.9 1813.4,494.5"/>
</g>
<rect x="284.5" y="55.5" width="1563.5" height="939.5" fill="none" stroke="#000" stroke-width="5.6"/>
<g font-family='"DejaVu Sans", "Liberation Sans", Verdana, sans-serif' font-size="51.4" stroke="#fff" stroke-width="0.7" stroke-linejoin="round">
<text x="289.7" y="128.4" fill="#000" xml:space="preserve">C5 C C</text>
<text x="496.2" y="128.4" fill="#000" xml:space="preserve">T</text>
<text x="577.3" y="128.4" fill="#000" xml:space="preserve">A A</text>
<text x="728.7" y="128.4" fill="#000" xml:space="preserve">C C C</text>
<text x="918.2" y="128.4" fill="#000" xml:space="preserve">T</text>
<text x="999.6" y="128.4" fill="#000" xml:space="preserve">A A</text>
<text x="1137.5" y="128.4" fill="#c8141f" xml:space="preserve">C C C</text>
<text x="1343.4" y="128.4" fill="#000" xml:space="preserve">T</text>
<text x="1422.9" y="128.4" fill="#000" xml:space="preserve">A A</text>
<text x="1559.9" y="128.4" fill="#c8141f" xml:space="preserve">C C C</text>
<text x="1766.7" y="128.4" fill="#000" xml:space="preserve">T3</text>
</g>
<clipPath id="k100" clipPathUnits="userSpaceOnUse"><path clip-rule="evenodd" d="M-600,-300H600V300H-600ZM-59.57,-7.80H-43.71V3.00H-59.57ZM-37.09,-7.80H-22.07V3.00H-37.09Z"/></clipPath>
<clipPath id="k10" clipPathUnits="userSpaceOnUse"><path clip-rule="evenodd" d="M-600,-300H600V300H-600ZM-80.43,-7.80H-64.57V3.00H-80.43ZM-57.95,-7.80H-42.93V3.00H-57.95Z"/></clipPath>
<clipPath id="kb" clipPathUnits="userSpaceOnUse"><path clip-rule="evenodd" d="M-600,-300H600V300H-600ZM-28.13,-6.27H-16.61V3.00H-28.13ZM-11.79,-6.27H-0.88V3.00H-11.79Z"/></clipPath>
<clipPath id="ko" clipPathUnits="userSpaceOnUse"><path clip-rule="evenodd" d="M-600,-300H600V300H-600ZM-58.45,-6.27H-46.92V3.00H-58.45ZM-42.11,-6.27H-31.20V3.00H-42.11Z"/></clipPath>
<g font-family='"Liberation Sans", Arial, Helvetica, sans-serif' font-size="75" fill="#000" stroke="#fff" stroke-width="0.8" stroke-linejoin="round">
<text transform="translate(294.2,1095.3) scale(1,1.034)" text-anchor="middle">0</text>
<text transform="translate(518.0,1095.3) scale(1,1.034)" text-anchor="middle" clip-path="url(#k100)">100</text>
<text transform="translate(741.5,1095.3) scale(1,1.034)" text-anchor="middle">200</text>
<text transform="translate(965.0,1095.3) scale(1,1.034)" text-anchor="middle">300</text>
<text transform="translate(1189.3,1095.3) scale(1,1.034)" text-anchor="middle">400</text>
<text transform="translate(1411.4,1095.3) scale(1,1.034)" text-anchor="middle">500</text>
<text transform="translate(1635.2,1095.3) scale(1,1.034)" text-anchor="middle">600</text>
<text transform="translate(1859.3,1095.3) scale(1,1.034)" text-anchor="middle">700</text>
<text transform="translate(239.5,1021.3) scale(1,1.034)" text-anchor="end">0</text>
<text transform="translate(239.5,833.4) scale(1,1.034)" text-anchor="end">2</text>
<text transform="translate(239.5,645.5) scale(1,1.034)" text-anchor="end">4</text>
<text transform="translate(239.5,457.6) scale(1,1.034)" text-anchor="end">6</text>
<text transform="translate(239.5,269.7) scale(1,1.034)" text-anchor="end">8</text>
<text transform="translate(239.5,81.8) scale(1,1.034)" text-anchor="end" clip-path="url(#k10)">10</text>
<text x="979.9" y="1207.3">atom <tspan dx="0.7" font-size="79.50" textLength="75.00" lengthAdjust="spacingAndGlyphs">ID</tspan></text>
<text transform="translate(98.4,643.8) rotate(-90)">rmsf, <tspan dx="-1.4" font-size="81.75" textLength="48.52" lengthAdjust="spacingAndGlyphs">Å</tspan></text>
</g>
<rect x="1917" y="1030" width="18" height="80" fill="#fff"/>
<g font-family='"Liberation Sans", Arial, Helvetica, sans-serif' font-size="54.5" fill="#000" text-anchor="end" stroke="#fff" stroke-width="0.8" stroke-linejoin="round">
<text transform="translate(1321,400.3) scale(1,1.02)" clip-path="url(#kb)">bsc1</text>
<text transform="translate(1321,475.3) scale(1,1.05)" clip-path="url(#ko)">OL15</text>
</g>
</g>
</svg>
</body></html>
